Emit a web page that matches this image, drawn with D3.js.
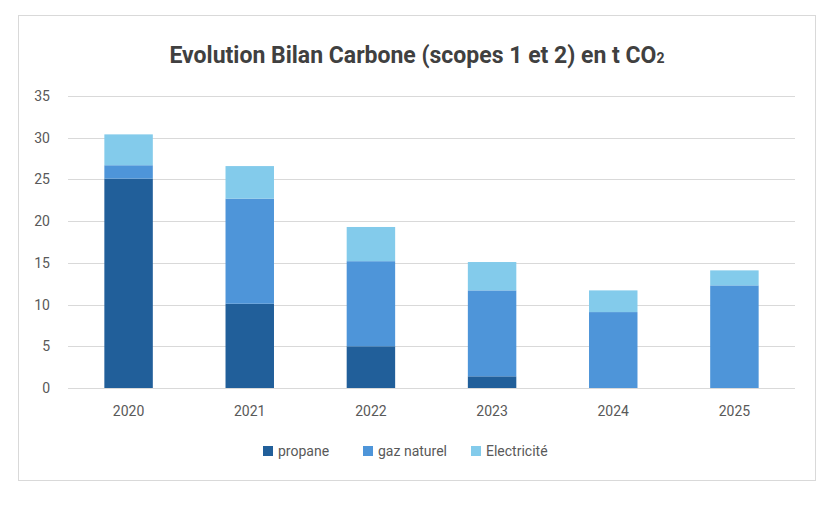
<!DOCTYPE html>
<html><head><meta charset="utf-8">
<script src="https://cdn.jsdelivr.net/npm/d3@7"></script>
<style>body{margin:0;background:#fff}</style>
</head><body><div id="chart"></div>
<script>
var years = ['2020', '2021', '2022', '2023', '2024', '2025'];
var propane = [25.1, 10.1, 5.0, 1.4, 0, 0];
var gaz = [1.6, 12.6, 10.2, 10.3, 9.1, 12.3];
var elec = [3.7, 3.9, 4.1, 3.4, 2.6, 1.8];
var seriesNames = ['propane', 'gaz naturel', 'Electricité'];
var colors = ['#215F9A', '#4E95D9', '#83CBEB'];
var yTicks = [0, 5, 10, 15, 20, 25, 30, 35];

var svg = d3.select('#chart').append('svg')
    .attr('width', 834).attr('height', 506)
    .style('font-family', 'Roboto, "Open Sans", sans-serif');

svg.append('rect')
    .attr('x', 18.5).attr('y', 15.5).attr('width', 797).attr('height', 465)
    .attr('fill', '#fff').attr('stroke', '#d9d9d9');

svg.append('text')
    .attr('x', 417).attr('y', 63)
    .attr('text-anchor', 'middle')
    .attr('font-size', '23px').attr('font-weight', 'bold')
    .attr('fill', '#404040')
    .text('Evolution Bilan Carbone (scopes 1 et 2) en t CO')
    .append('tspan').attr('font-size', '14px').attr('dy', 0).text('2');

var x = d3.scaleBand().domain(years).range([68, 795]).paddingInner(0.6).paddingOuter(0.3);
var y = d3.scaleLinear().domain([0, 35]).range([388, 96]);

svg.append('g').selectAll('line').data(yTicks).join('line')
    .attr('x1', 68).attr('x2', 795)
    .attr('y1', function(d) { return Math.round(y(d)) + 0.5; })
    .attr('y2', function(d) { return Math.round(y(d)) + 0.5; })
    .attr('stroke', '#d9d9d9');

svg.append('g').selectAll('text').data(yTicks).join('text')
    .attr('x', 50).attr('y', function(d) { return y(d) + 5; })
    .attr('text-anchor', 'end').attr('font-size', '14px').attr('fill', '#595959')
    .text(function(d) { return d; });

var rows = years.map(function(yr, i) {
    return { year: yr, propane: propane[i], gaz: gaz[i], elec: elec[i] };
});
var stack = d3.stack().keys(['propane', 'gaz', 'elec'])(rows);

svg.append('g').selectAll('g').data(stack).join('g')
    .attr('fill', function(d, i) { return colors[i]; })
    .selectAll('rect').data(function(d) { return d; }).join('rect')
    .attr('x', function(d) { return x(d.data.year); })
    .attr('width', x.bandwidth())
    .attr('y', function(d) { return y(d[1]); })
    .attr('height', function(d) { return y(d[0]) - y(d[1]); });

svg.append('g').selectAll('text').data(years).join('text')
    .attr('x', function(d) { return x(d) + x.bandwidth() / 2; })
    .attr('y', 416)
    .attr('text-anchor', 'middle').attr('font-size', '14px').attr('fill', '#595959')
    .text(function(d) { return d; });

var legendX = [263, 363, 471];
var legend = svg.append('g').selectAll('g').data(seriesNames).join('g')
    .attr('transform', function(d, i) { return 'translate(' + legendX[i] + ',451)'; });
legend.append('rect').attr('x', 0).attr('y', -5).attr('width', 10).attr('height', 10)
    .attr('fill', function(d, i) { return colors[i]; });
legend.append('text').attr('x', 15).attr('y', 5)
    .attr('font-size', '14px').attr('fill', '#595959')
    .text(function(d) { return d; });
</script>
</body></html>
